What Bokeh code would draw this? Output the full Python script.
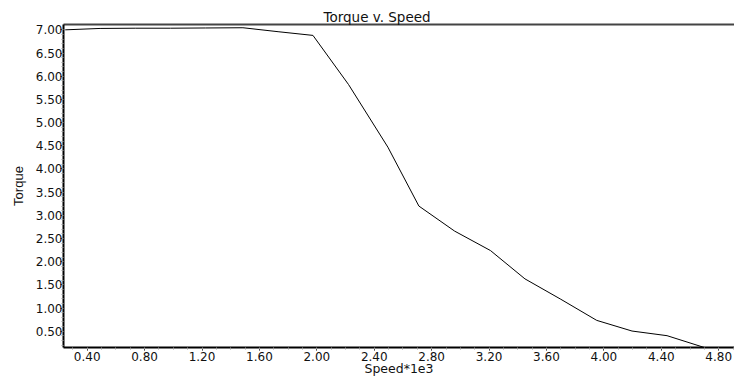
import numpy as np
from bokeh.plotting import figure
from bokeh.models import LinearAxis, FixedTicker, NumeralTickFormatter, Range1d
from bokeh.embed import file_html
from bokeh.resources import INLINE

# data
speed = [0.247, 0.49, 0.735, 0.98, 1.225, 1.485, 1.73, 1.973, 2.221, 2.495,
         2.711, 2.96, 3.21, 3.45, 3.70, 3.95, 4.196, 4.44, 4.70]
torque = [7.00, 7.03, 7.035, 7.035, 7.04, 7.045, 6.96, 6.88, 5.82, 4.47,
          3.20, 2.66, 2.24, 1.63, 1.19, 0.735, 0.505, 0.405, 0.15]

x_ticks = [0.4, 0.8, 1.2, 1.6, 2.0, 2.4, 2.8, 3.2, 3.6, 4.0, 4.4, 4.8]
y_ticks = [0.5, 1.0, 1.5, 2.0, 2.5, 3.0, 3.5, 4.0, 4.5, 5.0, 5.5, 6.0, 6.5, 7.0]
title_text = "Torque v. Speed"
x_label = "Speed*1e3"
y_label = "Torque"

x_start, x_end = 0.235, 4.91
y_start, y_end = 0.15, 7.115

FONT = "DejaVu Sans"

p = figure(frame_width=671, frame_height=323, output_backend="svg", toolbar_location=None,
           x_range=Range1d(x_start, x_end), y_range=Range1d(y_start, y_end),
           min_border_left=63, min_border_right=0, min_border_top=24,
           min_border_bottom=0, title=title_text)
p.background_fill_color = "white"
p.border_fill_color = "white"
p.outline_line_color = None
p.grid.visible = False

p.title.align = "left"
p.title.offset = 260
p.title.standoff = 0
p.title.text_font = FONT
p.title.text_font_size = "13.5px"
p.title.text_font_style = "normal"
p.title.text_color = "#111111"

p.line(speed, torque, line_color="black", line_width=1)

x_minor = list(np.round(np.arange(0.2, 4.95, 0.1), 2))
y_minor = list(np.round(np.arange(0.2, 7.1, 0.1), 2))

xa = p.xaxis[0]
xa.ticker = FixedTicker(ticks=x_ticks, minor_ticks=x_minor)
xa.formatter = NumeralTickFormatter(format="0.00")
xa.axis_line_color = "black"
xa.axis_line_width = 2
xa.major_tick_line_color = "black"
xa.major_tick_out = 3
xa.major_tick_in = 0
xa.minor_tick_line_color = "#999999"
xa.minor_tick_out = 2
xa.minor_tick_in = 0
xa.major_label_standoff = 1
xa.major_label_text_font = FONT
xa.major_label_text_font_size = "12px"
xa.major_label_text_color = "#111111"
xa.axis_label = x_label
xa.axis_label_standoff = -3
xa.axis_label_text_font = FONT
xa.axis_label_text_font_size = "12.5px"
xa.axis_label_text_font_style = "normal"
xa.axis_label_text_color = "#111111"

ya = p.yaxis[0]
ya.ticker = FixedTicker(ticks=y_ticks, minor_ticks=y_minor)
ya.formatter = NumeralTickFormatter(format="0.00")
ya.axis_line_color = "black"
ya.axis_line_width = 2
ya.major_tick_line_color = "black"
ya.major_tick_out = 3
ya.major_tick_in = 0
ya.minor_tick_line_color = "#999999"
ya.minor_tick_out = 2
ya.minor_tick_in = 0
ya.major_label_standoff = -2
ya.major_label_text_font = FONT
ya.major_label_text_font_size = "12px"
ya.major_label_text_color = "#111111"
ya.axis_label = y_label
ya.axis_label_standoff = 7
ya.axis_label_text_font = "Liberation Sans"
ya.axis_label_text_font_size = "13px"
ya.axis_label_text_font_style = "normal"
ya.axis_label_text_color = "#111111"

top = LinearAxis(ticker=FixedTicker(ticks=[]), major_label_text_font_size="0px",
                 major_tick_line_color=None, minor_tick_line_color=None,
                 axis_line_color="#444444", axis_line_width=2)
p.add_layout(top, "above")

open("out.html", "w").write(file_html(p, INLINE))
